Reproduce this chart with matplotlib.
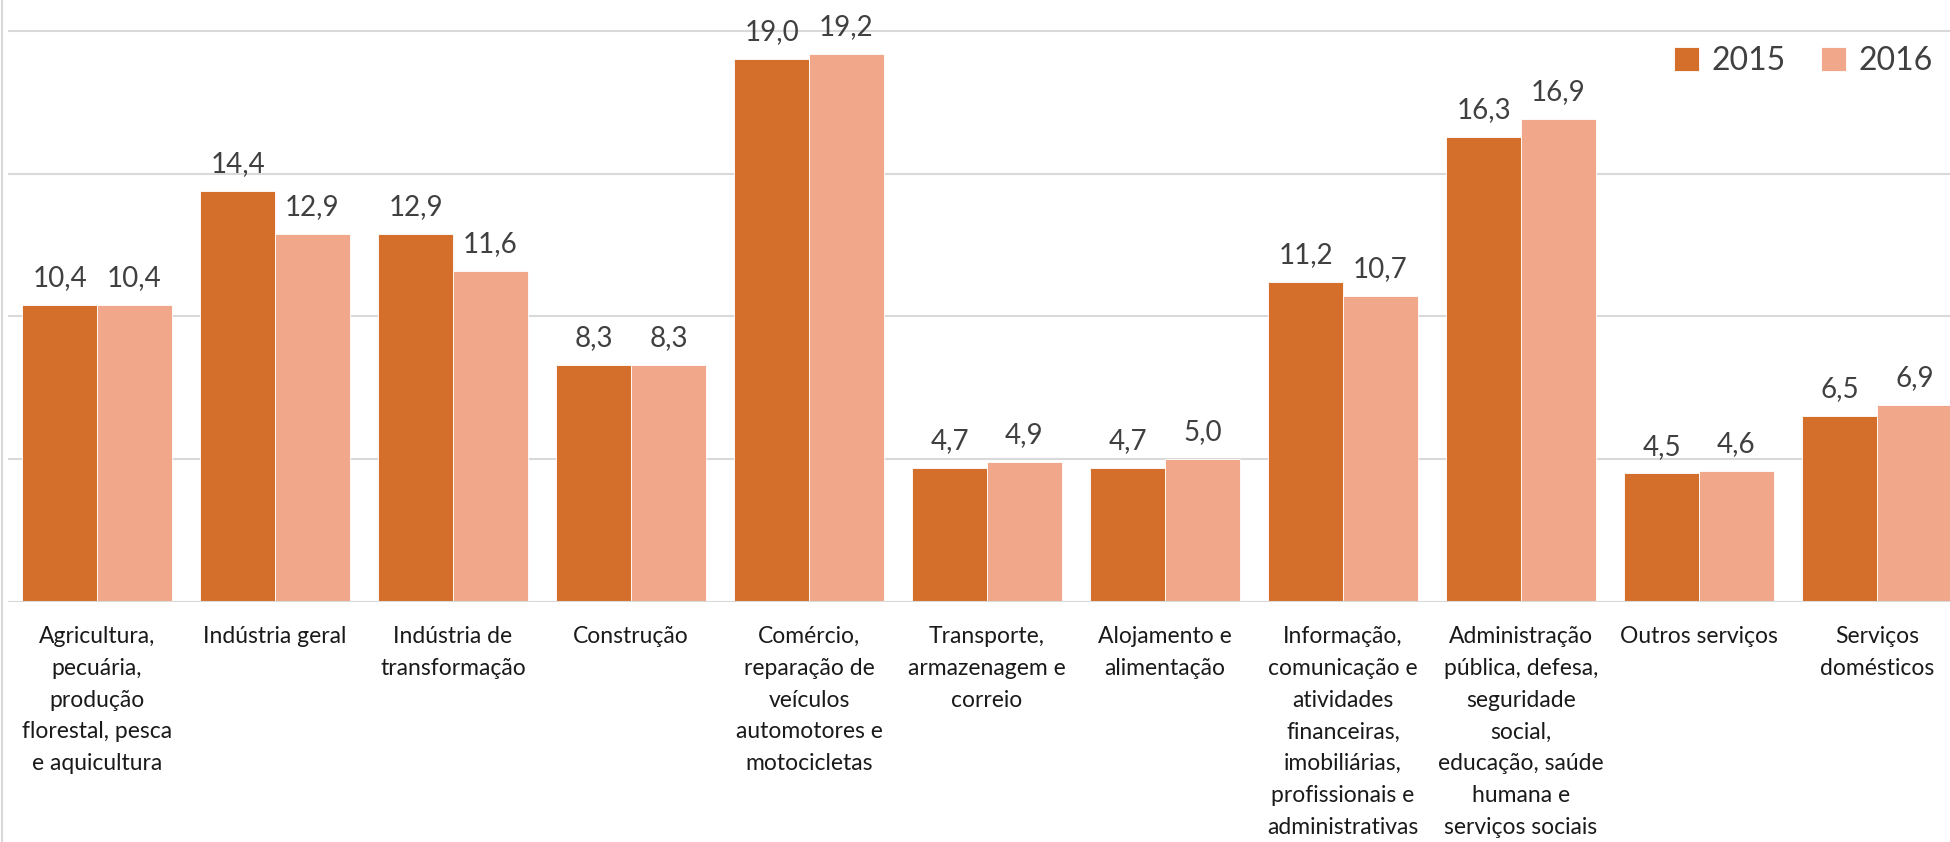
import matplotlib
matplotlib.use("Agg")
import matplotlib.pyplot as plt
from matplotlib.lines import Line2D
import numpy as np

categories = [
    "Agricultura,\npecuária,\nprodução\nflorestal, pesca\ne aquicultura",
    "Indústria geral",
    "Indústria de\ntransformação",
    "Construção",
    "Comércio,\nreparação de\nveículos\nautomotores e\nmotocicletas",
    "Transporte,\narmazenagem e\ncorreio",
    "Alojamento e\nalimentação",
    "Informação,\ncomunicação e\natividades\nfinanceiras,\nimobiliárias,\nprofissionais e\nadministrativas",
    "Administração\npública, defesa,\nseguridade\nsocial,\neducação, saúde\nhumana e\nserviços sociais",
    "Outros serviços",
    "Serviços\ndomésticos",
]
series_names = ["2015", "2016"]
values_2015 = [10.4, 14.4, 12.9, 8.3, 19.0, 4.7, 4.7, 11.2, 16.3, 4.5, 6.5]
values_2016 = [10.4, 12.9, 11.6, 8.3, 19.2, 4.9, 5.0, 10.7, 16.9, 4.6, 6.9]

c2015 = "#D36F2B"
c2016 = "#F1A88A"
FONT = "Lato"

W, H = 1950, 842
fig = plt.figure(figsize=(W / 100, H / 100), dpi=100)
left_px, right_px, bottom_px, top_px = 8, 1950, 602, 0
ax = fig.add_axes([left_px / W, 1 - bottom_px / H, (right_px - left_px) / W, (bottom_px - top_px) / H])

x = np.arange(len(categories))
bw = 0.42
b1 = ax.bar(x - bw / 2, values_2015, bw, color=c2015, edgecolor="white", linewidth=0.6, label=series_names[0], zorder=3)
b2 = ax.bar(x + bw / 2, values_2016, bw, color=c2016, edgecolor="white", linewidth=0.6, label=series_names[1], zorder=3)

for bars, vals in ((b1, values_2015), (b2, values_2016)):
    for r, v in zip(bars, vals):
        ax.annotate(f"{v:.1f}".replace(".", ","), (r.get_x() + r.get_width() / 2, v),
                    xytext=(0, 10), textcoords="offset points", ha="center", va="bottom",
                    fontsize=20, color="#404040", family=FONT)

ax.set_xlim(-0.5, 10.41)
ax.set_ylim(0, 21.08)
ax.set_yticks([5, 10, 15, 20])
ax.yaxis.grid(True, color="#D9D9D9", linewidth=1.5, zorder=0)
ax.axhline(0, color="#D9D9D9", linewidth=1.5, zorder=4)
ax.tick_params(axis="y", left=False, labelleft=False)
ax.tick_params(axis="x", bottom=False, pad=14)
ax.set_xticks(x)
ax.set_xticklabels(categories, fontsize=16.5, family=FONT, color="#1a1a1a",
                   linespacing=1.63, va="top")
for s in ax.spines.values():
    s.set_visible(False)

fig.add_artist(Line2D([2 / W, 2 / W], [0, 1], transform=fig.transFigure, color="#D9D9D9", linewidth=1.5))

leg = ax.legend(loc="upper left", bbox_to_anchor=(1674 / W, 1 - 46 / H), bbox_transform=fig.transFigure,
                ncol=2, frameon=False, prop={"family": FONT, "size": 23}, handlelength=0.78, handleheight=0.78,
                handletextpad=0.4, columnspacing=1.1, borderaxespad=0, borderpad=0, labelcolor="#404040")

fig.savefig("out.png", dpi=100)
